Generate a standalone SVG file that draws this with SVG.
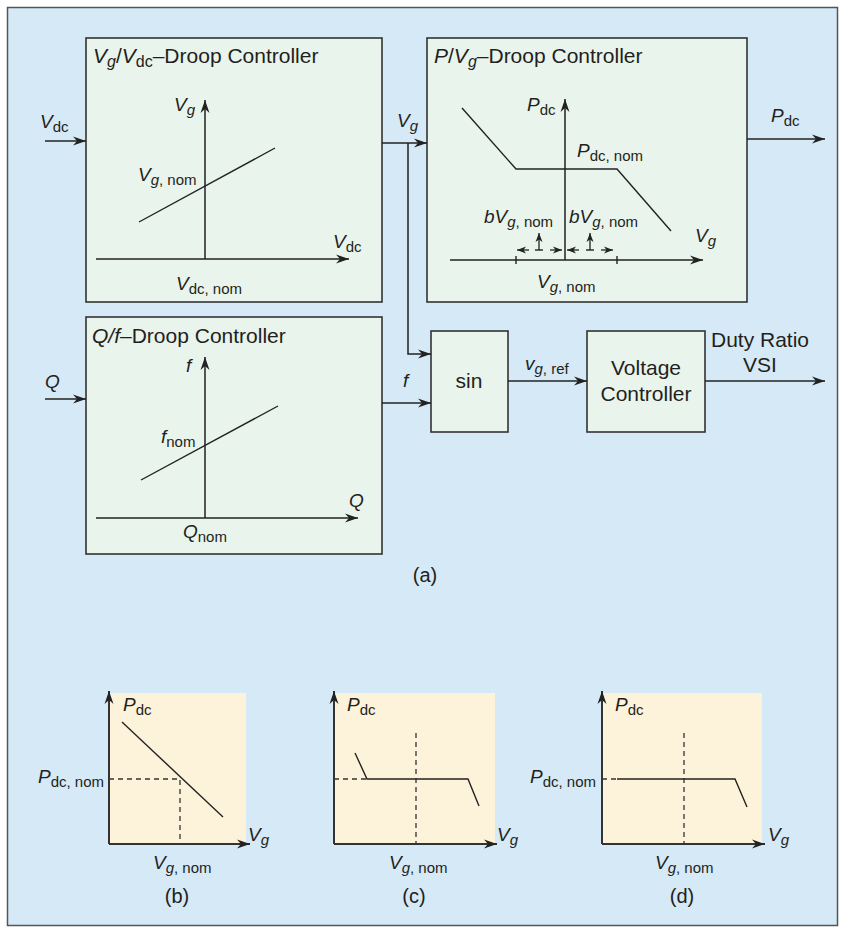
<svg xmlns="http://www.w3.org/2000/svg" width="844" height="932" viewBox="0 0 844 932">
<style>
.t{font-family:"Liberation Sans",Arial,sans-serif;fill:#231f20;}
.m{font-size:19px;}
.i{font-style:italic;}
.box{fill:#e9f4ec;stroke:#333;stroke-width:1.6;}
.ln{fill:none;stroke:#222;stroke-width:1.4;}
.ax{fill:none;stroke:#222;stroke-width:1.5;marker-end:url(#ah);}
.ax2{fill:none;stroke:#333;stroke-width:2;marker-end:url(#ah);}
.da{fill:none;stroke:#333;stroke-width:1.3;stroke-dasharray:5 4;}
.sm{fill:none;stroke:#222;stroke-width:1.3;marker-end:url(#sa);}
.yl{fill:#fdf3da;}
</style>
<defs>
<marker id="ah" viewBox="-14 -6 15 12" refX="0" refY="0" markerWidth="15" markerHeight="12" markerUnits="userSpaceOnUse" orient="auto"><path d="M-13,-4.5 L0,0 L-13,4.5 L-9,0 z" fill="#222"/></marker>
<marker id="sa" viewBox="-10 -5 11 10" refX="0" refY="0" markerWidth="11" markerHeight="10" markerUnits="userSpaceOnUse" orient="auto"><path d="M-9,-3.5 L0,0 L-9,3.5 L-6.5,0 z" fill="#222"/></marker>
</defs>
<rect x="7.5" y="7.5" width="830" height="918" fill="#d6e9f7" stroke="#555" stroke-width="1.5"/>

<g id="vg-vdc-droop">
<rect class="box" x="86" y="38" width="296" height="264"/>
<text class="t" x="93" y="63" font-size="21"><tspan class="i">V</tspan><tspan class="i" font-size="16" dy="4">g</tspan><tspan dy="-4">/</tspan><tspan class="i">V</tspan><tspan font-size="16" dy="4">dc</tspan><tspan dy="-4">–Droop Controller</tspan></text>
<path class="ax" d="M205,259 V100"/>
<path class="ax" d="M96,259 H349"/>
<path class="ln" d="M139,222 L275,148"/>
<text class="t m" x="174" y="111"><tspan class="i">V</tspan><tspan class="i" font-size="15" dy="4">g</tspan></text>
<text class="t m" x="138" y="181"><tspan class="i">V</tspan><tspan font-size="15" dy="4"><tspan class="i">g</tspan>, nom</tspan></text>
<text class="t m" x="333" y="248"><tspan class="i">V</tspan><tspan font-size="15" dy="4">dc</tspan></text>
<text class="t m" x="176" y="290"><tspan class="i">V</tspan><tspan font-size="15" dy="4">dc, nom</tspan></text>
</g>

<g id="p-vg-droop">
<rect class="box" x="427" y="38" width="320" height="264"/>
<text class="t" x="434" y="63" font-size="21"><tspan class="i">P</tspan><tspan>/</tspan><tspan class="i">V</tspan><tspan class="i" font-size="16" dy="4">g</tspan><tspan dy="-4">–Droop Controller</tspan></text>
<path class="ax" d="M565,260 V99"/>
<path class="ax" d="M450,260 H703"/>
<path class="ln" d="M516,256 V264 M617,256 V264"/>
<path class="ln" d="M462,108 L516,169 H617 L671,231"/>
<path class="sm" d="M529,250 H517"/>
<path class="ln" d="M535,250 H543"/>
<path class="sm" d="M550,250 H562"/>
<path class="sm" d="M539,250 V233"/>
<path class="sm" d="M579,250 H567"/>
<path class="ln" d="M586,250 H594"/>
<path class="sm" d="M601,250 H613"/>
<path class="sm" d="M590,250 V233"/>
<text class="t m" x="527" y="111"><tspan class="i">P</tspan><tspan font-size="15" dy="4">dc</tspan></text>
<text class="t m" x="577" y="157"><tspan class="i">P</tspan><tspan font-size="15" dy="4">dc, nom</tspan></text>
<text class="t m" x="484" y="223"><tspan class="i">bV</tspan><tspan font-size="15" dy="4"><tspan class="i">g</tspan>, nom</tspan></text>
<text class="t m" x="569" y="223"><tspan class="i">bV</tspan><tspan font-size="15" dy="4"><tspan class="i">g</tspan>, nom</tspan></text>
<text class="t m" x="695" y="242"><tspan class="i">V</tspan><tspan class="i" font-size="15" dy="4">g</tspan></text>
<text class="t m" x="537" y="288"><tspan class="i">V</tspan><tspan font-size="15" dy="4"><tspan class="i">g</tspan>, nom</tspan></text>
</g>

<g id="q-f-droop">
<rect class="box" x="86" y="317" width="296" height="237"/>
<text class="t" x="92" y="343" font-size="21"><tspan class="i">Q/f</tspan><tspan>–Droop Controller</tspan></text>
<path class="ax" d="M205,518 V357"/>
<path class="ax" d="M96,518 H358"/>
<path class="ln" d="M141,480 L278,406"/>
<text class="t m i" x="186" y="372">f</text>
<text class="t m" x="161" y="443"><tspan class="i">f</tspan><tspan font-size="15" dy="4">nom</tspan></text>
<text class="t m i" x="349" y="507">Q</text>
<text class="t m" x="183" y="538"><tspan class="i">Q</tspan><tspan font-size="15" dy="4">nom</tspan></text>
</g>

<g id="sin">
<rect class="box" x="431" y="331" width="77" height="101"/>
<text class="t" x="469" y="388" font-size="21" text-anchor="middle">sin</text>
</g>

<g id="voltage-controller">
<rect class="box" x="587" y="331" width="118" height="101"/>
<text class="t" x="646" y="375" font-size="21" text-anchor="middle">Voltage</text>
<text class="t" x="646" y="401" font-size="21" text-anchor="middle">Controller</text>
</g>

<g id="connectors">
<path class="ax" d="M45,141 H86"/>
<path class="ax" d="M382,143 H427"/>
<path class="ax" d="M408,143 V354 H431"/>
<path class="ax" d="M747,139 H825"/>
<path class="ax" d="M45,399 H86"/>
<path class="ax" d="M382,403 H431"/>
<path class="ax" d="M508,381 H587"/>
<path class="ax" d="M705,381 H825"/>
</g>

<g id="connector-labels">
<text class="t m" x="40" y="128"><tspan class="i">V</tspan><tspan font-size="15" dy="4">dc</tspan></text>
<text class="t m" x="397" y="127"><tspan class="i">V</tspan><tspan class="i" font-size="15" dy="4">g</tspan></text>
<text class="t m" x="771" y="122"><tspan class="i">P</tspan><tspan font-size="15" dy="4">dc</tspan></text>
<text class="t m i" x="45" y="388">Q</text>
<text class="t m i" x="403" y="387">f</text>
<text class="t m" x="525" y="370"><tspan class="i">v</tspan><tspan font-size="15" dy="4"><tspan class="i">g</tspan>, ref</tspan></text>
<text class="t" x="760" y="347" font-size="21" text-anchor="middle">Duty Ratio</text>
<text class="t" x="760" y="372" font-size="21" text-anchor="middle">VSI</text>
</g>

<text class="t" x="425" y="582" font-size="20" text-anchor="middle">(a)</text>

<g id="graph-b">
<rect class="yl" x="109" y="693" width="137" height="151"/>
<path class="da" d="M109,779 H180 V844"/>
<path class="ln" d="M122,722 L223,817"/>
<path class="ax2" d="M109,844 V691"/>
<path class="ax2" d="M109,844 H250"/>
<text class="t m" x="123" y="711"><tspan class="i">P</tspan><tspan font-size="15" dy="4">dc</tspan></text>
<text class="t m" x="104" y="783" text-anchor="end"><tspan class="i">P</tspan><tspan font-size="15" dy="4">dc, nom</tspan></text>
<text class="t m" x="248" y="841"><tspan class="i">V</tspan><tspan class="i" font-size="15" dy="4">g</tspan></text>
<text class="t m" x="153" y="869"><tspan class="i">V</tspan><tspan font-size="15" dy="4"><tspan class="i">g</tspan>, nom</tspan></text>
<text class="t" x="177" y="903" font-size="20" text-anchor="middle">(b)</text>
</g>

<g id="graph-c">
<rect class="yl" x="334" y="693" width="161" height="151"/>
<path class="da" d="M334,779 H367"/>
<path class="da" d="M416,733 V844"/>
<path class="ln" d="M355,753 L367,779 H468 L479,806"/>
<path class="ax2" d="M334,844 V691"/>
<path class="ax2" d="M334,844 H497"/>
<text class="t m" x="347" y="711"><tspan class="i">P</tspan><tspan font-size="15" dy="4">dc</tspan></text>
<text class="t m" x="497" y="841"><tspan class="i">V</tspan><tspan class="i" font-size="15" dy="4">g</tspan></text>
<text class="t m" x="389" y="869"><tspan class="i">V</tspan><tspan font-size="15" dy="4"><tspan class="i">g</tspan>, nom</tspan></text>
<text class="t" x="414" y="903" font-size="20" text-anchor="middle">(c)</text>
</g>

<g id="graph-d">
<rect class="yl" x="602" y="693" width="160" height="151"/>
<path class="da" d="M602,779 H617"/>
<path class="da" d="M684,733 V844"/>
<path class="ln" d="M617,779 H735 L747,807"/>
<path class="ax2" d="M602,844 V691"/>
<path class="ax2" d="M602,844 H765"/>
<text class="t m" x="615" y="711"><tspan class="i">P</tspan><tspan font-size="15" dy="4">dc</tspan></text>
<text class="t m" x="596" y="783" text-anchor="end"><tspan class="i">P</tspan><tspan font-size="15" dy="4">dc, nom</tspan></text>
<text class="t m" x="768" y="841"><tspan class="i">V</tspan><tspan class="i" font-size="15" dy="4">g</tspan></text>
<text class="t m" x="655" y="869"><tspan class="i">V</tspan><tspan font-size="15" dy="4"><tspan class="i">g</tspan>, nom</tspan></text>
<text class="t" x="682" y="903" font-size="20" text-anchor="middle">(d)</text>
</g>
</svg>
